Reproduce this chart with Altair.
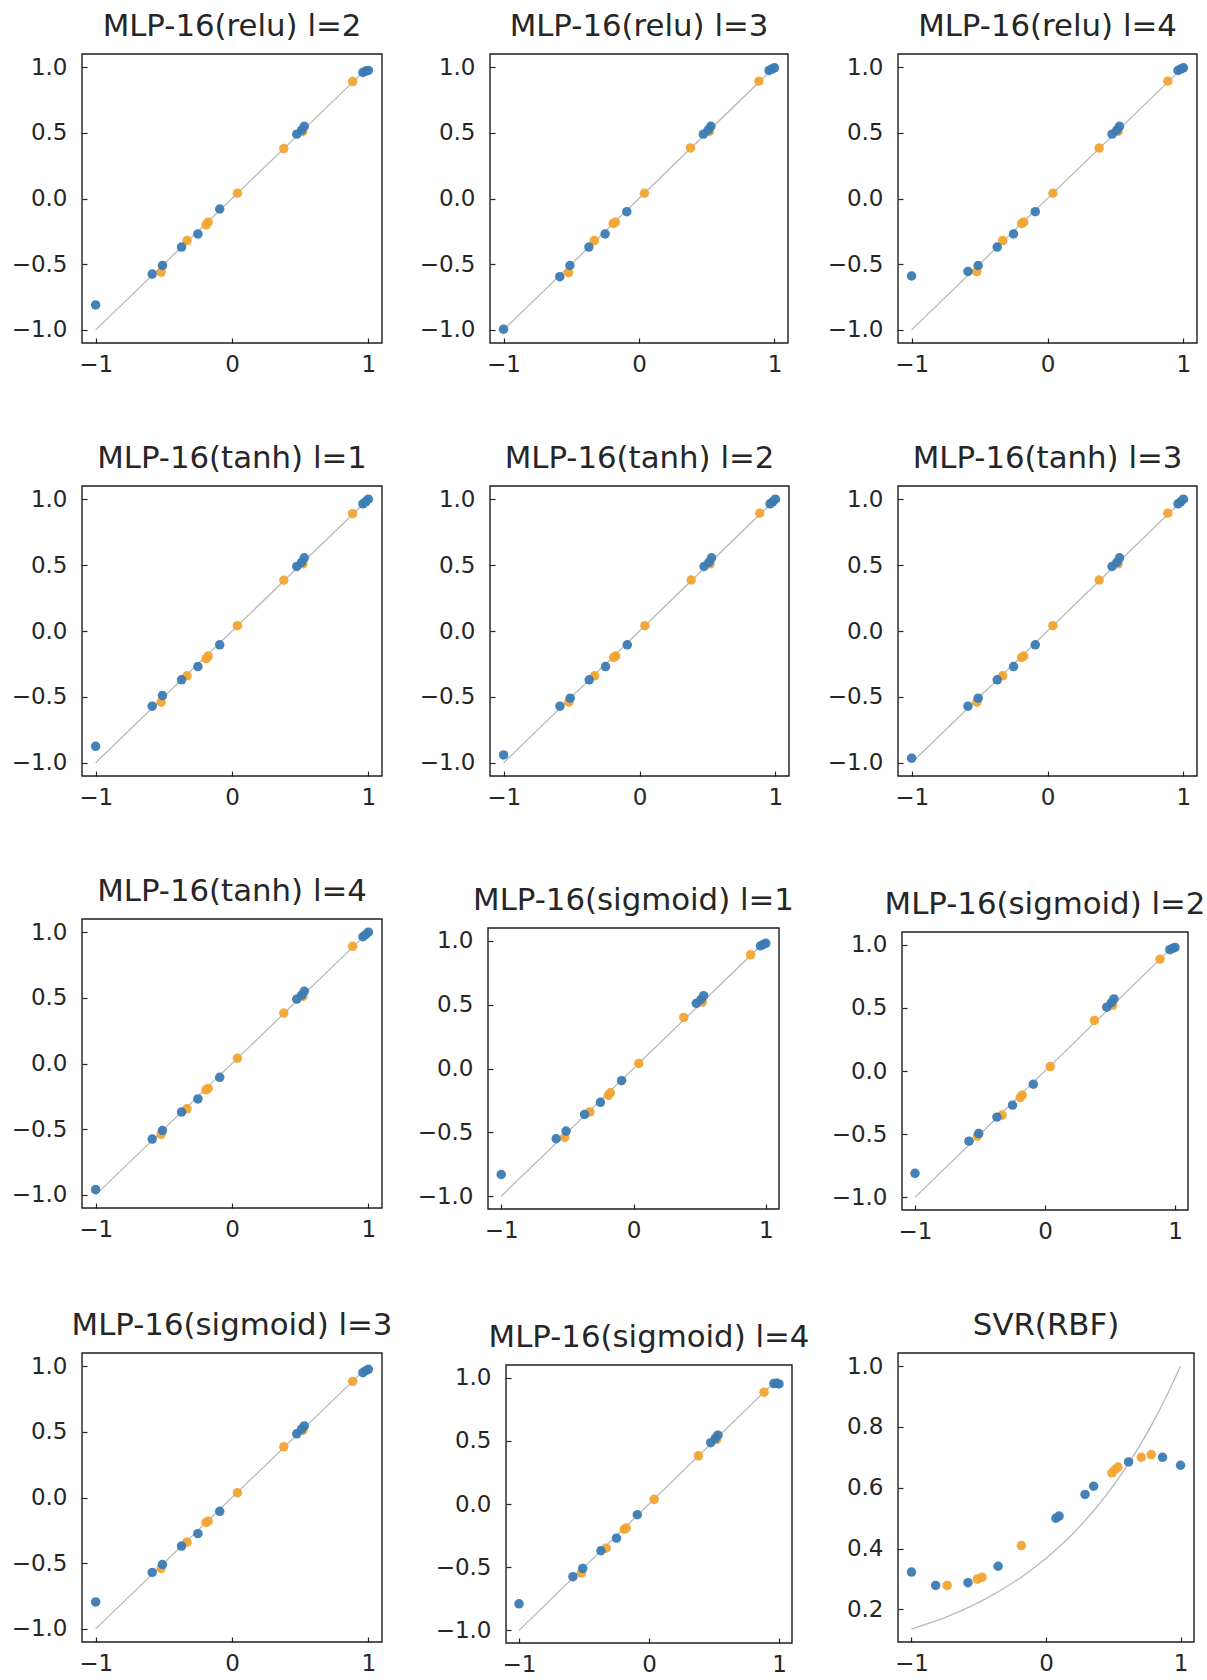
import altair as alt
import pandas as pd

FONT = "DejaVu Sans"
BLUE = "#3a7bb4"
ORANGE = "#f2a431"
LINE = "#b9b9b9"
INK = "#262626"
FRAME = "#1e1e1e"

# ---------------- data ----------------
titles = [
    "MLP-16(relu) l=2", "MLP-16(relu) l=3", "MLP-16(relu) l=4",
    "MLP-16(tanh) l=1", "MLP-16(tanh) l=2", "MLP-16(tanh) l=3",
    "MLP-16(tanh) l=4", "MLP-16(sigmoid) l=1", "MLP-16(sigmoid) l=2",
    "MLP-16(sigmoid) l=3", "MLP-16(sigmoid) l=4",
]

blue_x = [-1.0, -0.585, -0.51, -0.37, -0.25, -0.09, 0.475, 0.51, 0.53, 0.96, 0.98, 1.0]
orange_x = [-0.52, -0.33, -0.19, -0.175, 0.04, 0.38, 0.52, 0.885]

blue_y = [
    [-0.81, -0.575, -0.51, -0.37, -0.27, -0.08, 0.49, 0.52, 0.55, 0.96, 0.97, 0.975],
    [-0.995, -0.595, -0.51, -0.37, -0.27, -0.10, 0.49, 0.52, 0.55, 0.975, 0.985, 0.995],
    [-0.59, -0.555, -0.51, -0.37, -0.27, -0.10, 0.49, 0.52, 0.55, 0.975, 0.985, 0.995],
    [-0.875, -0.57, -0.49, -0.37, -0.27, -0.105, 0.49, 0.52, 0.555, 0.965, 0.98, 1.0],
    [-0.94, -0.57, -0.51, -0.37, -0.27, -0.105, 0.49, 0.52, 0.555, 0.965, 0.98, 1.0],
    [-0.965, -0.57, -0.51, -0.37, -0.27, -0.105, 0.49, 0.52, 0.555, 0.965, 0.98, 1.0],
    [-0.96, -0.575, -0.51, -0.37, -0.27, -0.105, 0.49, 0.52, 0.55, 0.965, 0.98, 1.0],
    [-0.83, -0.55, -0.49, -0.36, -0.265, -0.095, 0.51, 0.54, 0.57, 0.96, 0.97, 0.98],
    [-0.81, -0.555, -0.495, -0.365, -0.27, -0.105, 0.505, 0.54, 0.57, 0.96, 0.97, 0.978],
    [-0.795, -0.57, -0.51, -0.37, -0.275, -0.105, 0.485, 0.52, 0.545, 0.95, 0.965, 0.976],
    [-0.79, -0.575, -0.51, -0.37, -0.27, -0.085, 0.485, 0.52, 0.545, 0.953, 0.955, 0.95],
]
orange_y = [
    [-0.56, -0.32, -0.20, -0.18, 0.04, 0.38, 0.51, 0.89],
    [-0.565, -0.32, -0.19, -0.18, 0.04, 0.385, 0.51, 0.893],
    [-0.557, -0.32, -0.19, -0.18, 0.04, 0.384, 0.51, 0.893],
    [-0.54, -0.34, -0.21, -0.19, 0.04, 0.385, 0.51, 0.89],
    [-0.54, -0.34, -0.20, -0.19, 0.04, 0.387, 0.51, 0.894],
    [-0.54, -0.34, -0.20, -0.19, 0.04, 0.387, 0.51, 0.894],
    [-0.54, -0.345, -0.20, -0.19, 0.04, 0.384, 0.51, 0.892],
    [-0.54, -0.34, -0.21, -0.19, 0.04, 0.40, 0.52, 0.89],
    [-0.515, -0.35, -0.21, -0.19, 0.035, 0.40, 0.52, 0.885],
    [-0.54, -0.34, -0.19, -0.18, 0.036, 0.386, 0.51, 0.884],
    [-0.546, -0.35, -0.20, -0.19, 0.037, 0.381, 0.51, 0.885],
]

diag_x = [-1.0, 1.0]
diag_y = [-1.0, 1.0]

svr_title = "SVR(RBF)"
svr_blue_x = [-1.0, -0.82, -0.58, -0.356, 0.074, 0.097, 0.29, 0.354, 0.614, 0.866, 1.0]
svr_blue_y = [0.323, 0.279, 0.288, 0.342, 0.50, 0.507, 0.578, 0.605, 0.685, 0.70, 0.674]
svr_orange_x = [-0.735, -0.51, -0.475, -0.183, 0.49, 0.515, 0.535, 0.708, 0.782]
svr_orange_y = [0.279, 0.30, 0.306, 0.41, 0.649, 0.66, 0.668, 0.70, 0.709]
svr_curve_x = [-1.0, -0.9, -0.8, -0.7, -0.6, -0.5, -0.4, -0.3, -0.2, -0.1, 0.0,
               0.1, 0.2, 0.3, 0.4, 0.5, 0.6, 0.7, 0.8, 0.9, 1.0]
svr_curve_y = [0.135, 0.15, 0.165, 0.183, 0.202, 0.223, 0.247, 0.273, 0.301, 0.333, 0.368,
               0.407, 0.449, 0.497, 0.549, 0.607, 0.670, 0.741, 0.819, 0.905, 1.0]

diag_ticks = [-1.0, -0.5, 0.0, 0.5, 1.0]
svr_ticks = [0.2, 0.4, 0.6, 0.8, 1.0]
x_ticks = [-1, 0, 1]
x_domain = [-1.1, 1.1]
diag_domain = [-1.1, 1.1]
svr_domain = [0.093, 1.043]

# grid cells (column widths / row heights) and plot rect inside each cell
COL_W = [300, 304, 299]
ROW_H = [289, 290, 291, 290]
RECTS = [  # dx, dy, w, h
    (0, 0, 300, 289), (2, 0, 298, 289), (0, 0, 299, 289),
    (0, 0, 300, 290), (2, 0, 299, 290), (0, 0, 299, 290),
    (0, 0, 300, 289), (0, 9, 291, 281), (4, 13, 286, 278),
    (0, 0, 300, 289), (18, 12, 286, 278), (0, 0, 296, 289),
]


def panel(k, title, bx, by, ox, oy, lx, ly, ydom, yticks, curve=False):
    W = COL_W[k % 3]
    H = ROW_H[k // 3]
    dx, dy, w, h = RECTS[k]
    below = H - dy - h
    xs = alt.Scale(domain=x_domain, nice=False, zero=False, range=[dx, dx + w])
    ys = alt.Scale(domain=ydom, nice=False, zero=False, range=[dy + h, dy])
    xax = alt.Axis(values=x_ticks, format="d", offset=-(5 + below), tickSize=5,
                   domain=False, grid=False, labelPadding=10, title=None,
                   labelFlush=False)
    yax = alt.Axis(values=yticks, format=".1f", offset=-(5 + dx), tickSize=5,
                   domain=False, grid=False, labelPadding=15, title=None,
                   labelFlush=False)
    X = alt.X("x:Q", scale=xs, axis=xax)
    Y = alt.Y("y:Q", scale=ys, axis=yax)
    ln = alt.Chart(pd.DataFrame({"x": lx, "y": ly})).mark_line(
        color=LINE, strokeWidth=1.3, interpolate="monotone" if curve else "linear"
    ).encode(x=X, y=Y)
    po = alt.Chart(pd.DataFrame({"x": ox, "y": oy})).mark_circle(
        color=ORANGE, size=90, opacity=0.95).encode(x=X, y=Y)
    pb = alt.Chart(pd.DataFrame({"x": bx, "y": by})).mark_circle(
        color=BLUE, size=90, opacity=0.95).encode(x=X, y=Y)
    fr = alt.Chart(pd.DataFrame({"x": [x_domain[0]], "x2": [x_domain[1]],
                                 "y": [ydom[0]], "y2": [ydom[1]]})).mark_rect(
        fillOpacity=0, stroke=FRAME, strokeWidth=1.4).encode(
        x=X, x2="x2:Q", y=Y, y2="y2:Q")
    return alt.layer(ln, po, pb, fr).properties(
        width=W, height=H,
        title=alt.TitleParams(title, fontSize=30.8, font=FONT, fontWeight="normal",
                              color=INK, offset=0, dy=13 + dy, baseline="alphabetic",
                              anchor="middle", frame="group",
                              dx=dx + w / 2 - W / 2),
    )


panels = [panel(i, titles[i], blue_x, blue_y[i], orange_x, orange_y[i],
                diag_x, diag_y, diag_domain, diag_ticks) for i in range(11)]
panels.append(panel(11, svr_title, svr_blue_x, svr_blue_y, svr_orange_x, svr_orange_y,
                    svr_curve_x, svr_curve_y, svr_domain, svr_ticks, curve=True))

chart = alt.concat(*panels, columns=3, bounds="flush",
                   spacing={"row": 143, "column": 106}).properties(
    padding={"left": 11, "top": 10, "right": 0, "bottom": 0},
    background="white",
).configure_view(strokeOpacity=0).configure_axis(
    labelFont=FONT, labelFontSize=23, labelColor=INK, tickColor=INK, tickWidth=1.2,
    grid=False,
)

chart.save("out.html", embed_options={"renderer": "svg", "actions": False})
